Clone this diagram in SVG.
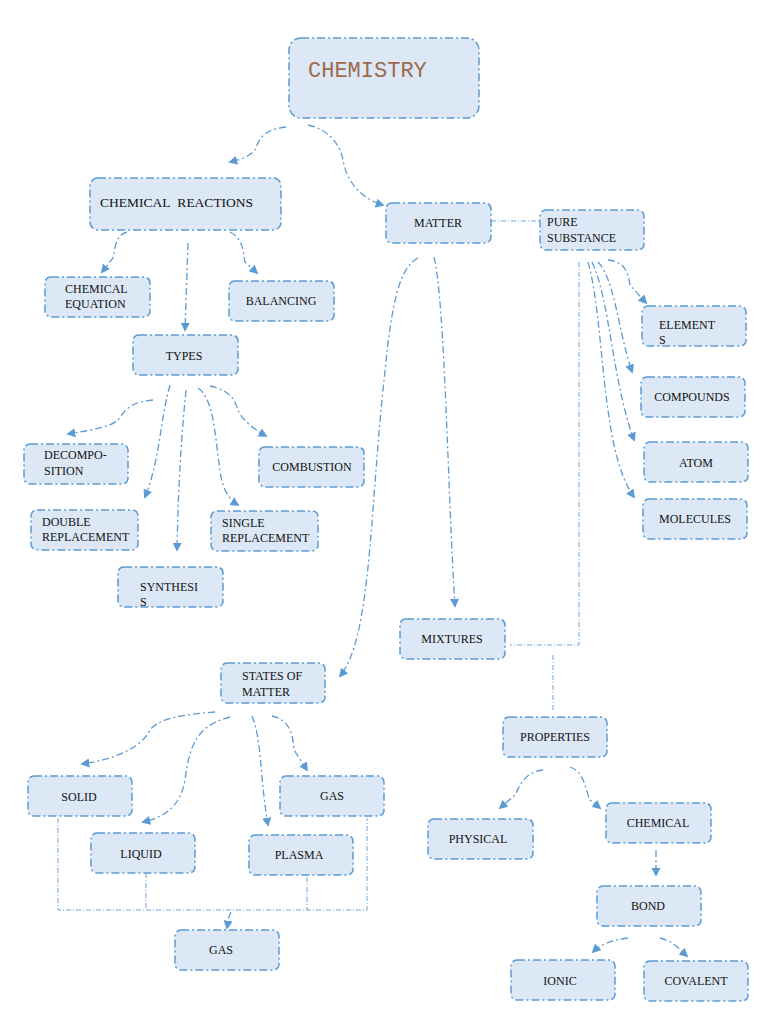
<svg xmlns="http://www.w3.org/2000/svg" width="768" height="1024" viewBox="0 0 768 1024">
<style>
.n rect{fill:#dce8f5;stroke:#5b9bd5;stroke-width:1.5;stroke-dasharray:8 3 2 3}
.n text{font-family:"Liberation Serif",serif;font-size:12px;fill:#111}
.c path{fill:none;stroke:#5b9bd5;stroke-width:1.3;stroke-dasharray:7 3 2 3}
.c path.a{marker-end:url(#ar)}
.c path.t{stroke-width:0.9;stroke-dasharray:5 2 1 2}
</style>
<defs><marker id="ar" viewBox="0 0 10 10" refX="8" refY="5" markerWidth="7" markerHeight="7" orient="auto"><path d="M0,0L10,5L0,10z" fill="#5b9bd5"/></marker></defs>
<rect width="768" height="1024" fill="#fff"/>
<g class="c">
<path class="a" d="M286,127 C258,130 258,145 255,150 C248,158 238,160 230,162"/>
<path class="a" d="M308,125 C330,130 340,145 343,160 C347,185 365,200 383,205"/>
<path class="t" d="M491,221 L540,221"/>
<path class="a" d="M127,232 C115,235 115,250 113,258 L102,272"/>
<path class="a" d="M188,243 L185,330"/>
<path class="a" d="M230,232 C245,240 243,255 245,262 L257,273"/>
<path class="a" d="M153,400 C130,402 125,410 118,420 C110,428 80,432 68,434"/>
<path class="a" d="M170,385 C160,420 160,460 145,497"/>
<path class="a" d="M186,390 C180,450 178,500 177,550"/>
<path class="a" d="M198,388 C215,400 215,440 220,470 C222,490 230,500 238,505"/>
<path class="a" d="M210,386 C230,390 235,400 238,410 C242,420 255,430 266,436"/>
<path class="a" d="M418,258 C395,270 390,320 382,400 C370,520 370,640 340,676"/>
<path class="a" d="M434,257 C445,300 448,500 455,606"/>
<path class="a" d="M608,260 C625,262 628,272 630,285 L646,303"/>
<path class="a" d="M598,262 C615,280 618,330 632,372"/>
<path class="a" d="M592,262 C610,300 612,380 634,440"/>
<path class="a" d="M588,262 C605,320 600,450 634,497"/>
<path class="t" d="M579,262 L579,645 L510,645"/>
<path class="t" d="M553,655 L553,712"/>
<path class="a" d="M215,712 C180,715 160,718 150,730 C140,750 110,760 82,764"/>
<path class="a" d="M230,717 C200,725 190,740 185,780 C180,810 160,818 143,822"/>
<path class="a" d="M252,716 C262,740 260,780 268,825"/>
<path class="a" d="M272,716 C290,720 293,735 294,750 L307,770"/>
<path class="t" d="M58,818 L58,910 L367,910 L367,818 M146,873 L146,910 M307,877 L307,910"/>
<path class="a" d="M231,912 C228,918 228,922 227,928"/>
<path class="a" d="M543,770 C525,772 520,785 515,795 L500,808"/>
<path class="a" d="M570,767 C585,772 585,790 590,800 L600,808"/>
<path class="a" d="M656,850 L656,875"/>
<path class="a" d="M628,938 C610,940 600,945 593,952"/>
<path class="a" d="M660,938 C675,942 680,950 687,956"/>
</g>
<g class="n" id="chemistry"><rect x="289" y="38" width="190" height="80" rx="12"/><text x="308" y="77" style="font-family:'Liberation Mono',monospace;font-size:22px;fill:#9c6b4e">CHEMISTRY</text></g>
<g class="n" id="reactions"><rect x="90" y="178" width="191" height="52" rx="8"/><text x="100" y="207" style="font-size:13.5px;word-spacing:4px">CHEMICAL REACTIONS</text></g>
<g class="n" id="matter"><rect x="386" y="203" width="105" height="40" rx="6"/><text x="438" y="227" text-anchor="middle">MATTER</text></g>
<g class="n" id="pure"><rect x="540" y="210" width="104" height="40" rx="6"/><text x="547" y="226">PURE</text><text x="547" y="242">SUBSTANCE</text></g>
<g class="n" id="equation"><rect x="45" y="277" width="105" height="40" rx="6"/><text x="65" y="293">CHEMICAL</text><text x="65" y="308">EQUATION</text></g>
<g class="n" id="balancing"><rect x="229" y="281" width="105" height="40" rx="6"/><text x="281" y="305" text-anchor="middle">BALANCING</text></g>
<g class="n" id="types"><rect x="133" y="335" width="105" height="40" rx="6"/><text x="184" y="360" text-anchor="middle">TYPES</text></g>
<g class="n" id="elements"><rect x="642" y="306" width="104" height="40" rx="6"/><text x="659" y="329">ELEMENT</text><text x="659" y="344">S</text></g>
<g class="n" id="compounds"><rect x="641" y="377" width="104" height="40" rx="6"/><text x="692" y="401" text-anchor="middle">COMPOUNDS</text></g>
<g class="n" id="atom"><rect x="644" y="442" width="104" height="40" rx="6"/><text x="696" y="467" text-anchor="middle">ATOM</text></g>
<g class="n" id="molecules"><rect x="643" y="499" width="104" height="40" rx="6"/><text x="695" y="523" text-anchor="middle">MOLECULES</text></g>
<g class="n" id="decomposition"><rect x="24" y="444" width="104" height="40" rx="6"/><text x="44" y="459">DECOMPO-</text><text x="44" y="475">SITION</text></g>
<g class="n" id="combustion"><rect x="259" y="447" width="105" height="40" rx="6"/><text x="312" y="471" text-anchor="middle">COMBUSTION</text></g>
<g class="n" id="double"><rect x="31" y="510" width="107" height="40" rx="6"/><text x="42" y="526">DOUBLE</text><text x="42" y="541">REPLACEMENT</text></g>
<g class="n" id="single"><rect x="211" y="511" width="107" height="40" rx="6"/><text x="222" y="527">SINGLE</text><text x="222" y="542">REPLACEMENT</text></g>
<g class="n" id="synthesis"><rect x="118" y="567" width="105" height="40" rx="6"/><text x="140" y="591">SYNTHESI</text><text x="140" y="606">S</text></g>
<g class="n" id="mixtures"><rect x="400" y="619" width="105" height="40" rx="6"/><text x="452" y="643" text-anchor="middle">MIXTURES</text></g>
<g class="n" id="states"><rect x="221" y="663" width="104" height="40" rx="6"/><text x="242" y="680">STATES OF</text><text x="242" y="696">MATTER</text></g>
<g class="n" id="properties"><rect x="503" y="717" width="104" height="40" rx="6"/><text x="555" y="741" text-anchor="middle">PROPERTIES</text></g>
<g class="n" id="solid"><rect x="28" y="776" width="104" height="40" rx="6"/><text x="79" y="801" text-anchor="middle">SOLID</text></g>
<g class="n" id="gas1"><rect x="280" y="776" width="104" height="40" rx="6"/><text x="332" y="800" text-anchor="middle">GAS</text></g>
<g class="n" id="liquid"><rect x="91" y="833" width="104" height="40" rx="6"/><text x="141" y="858" text-anchor="middle">LIQUID</text></g>
<g class="n" id="plasma"><rect x="249" y="835" width="104" height="40" rx="6"/><text x="299" y="859" text-anchor="middle">PLASMA</text></g>
<g class="n" id="physical"><rect x="428" y="819" width="105" height="40" rx="6"/><text x="478" y="843" text-anchor="middle">PHYSICAL</text></g>
<g class="n" id="chemical"><rect x="606" y="803" width="105" height="40" rx="6"/><text x="658" y="827" text-anchor="middle">CHEMICAL</text></g>
<g class="n" id="bond"><rect x="597" y="886" width="104" height="40" rx="6"/><text x="648" y="910" text-anchor="middle">BOND</text></g>
<g class="n" id="gas2"><rect x="175" y="930" width="104" height="40" rx="6"/><text x="221" y="954" text-anchor="middle">GAS</text></g>
<g class="n" id="ionic"><rect x="511" y="960" width="104" height="40" rx="6"/><text x="560" y="985" text-anchor="middle">IONIC</text></g>
<g class="n" id="covalent"><rect x="644" y="961" width="104" height="40" rx="6"/><text x="696" y="985" text-anchor="middle">COVALENT</text></g>
</svg>
